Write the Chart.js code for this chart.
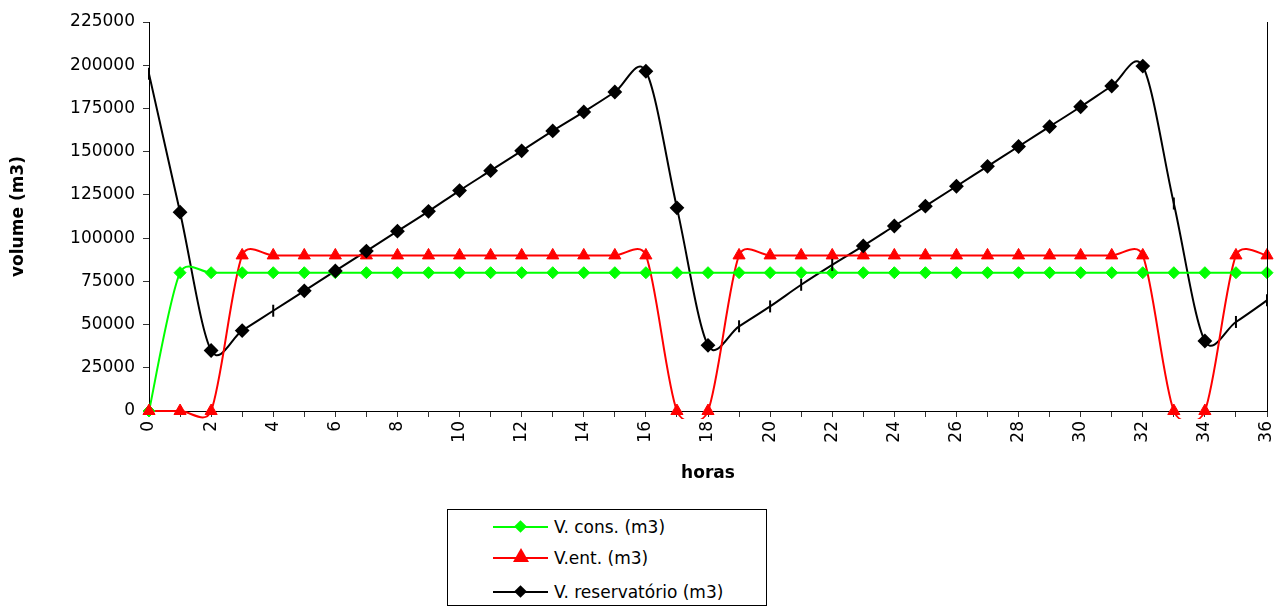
<!doctype html>
<html>
  <head>
    <title>Volumes</title>
    <script src="https://cdn.jsdelivr.net/npm/chart.js"></script>
    <style>
      body {
        margin: 0;
        background: #fff;
        font-family: 'DejaVu Sans', sans-serif;
      }
      .wrap {
        position: relative;
        width: 1275px;
        height: 612px;
      }
      #chart {
        position: absolute;
        left: 0;
        top: 0;
      }
      .legend {
        position: absolute;
        left: 447px;
        top: 509px;
        width: 320px;
        height: 97px;
        border: 1px solid #000;
        box-sizing: border-box;
        font-size: 17px;
      }
      .row {
        position: absolute;
        left: 45px;
        height: 20px;
        display: flex;
        align-items: center;
      }
      .line {
        position: relative;
        width: 55px;
        height: 2px;
        margin-right: 6px;
      }
      .diamond {
        position: absolute;
        left: 23px;
        top: -4px;
        width: 9px;
        height: 9px;
        transform: rotate(45deg);
      }
      .tri {
        position: absolute;
        left: 20px;
        top: -9px;
        width: 0;
        height: 0;
        border-left: 8px solid transparent;
        border-right: 8px solid transparent;
        border-bottom: 14px solid #ff0000;
      }
    </style>
  </head>
  <body>
    <div class="wrap">
      <canvas id="chart" width="1275" height="500"></canvas>
      <div class="legend">
        <div class="row" style="top: 7px">
          <div class="line" style="background: #00ff00"><div class="diamond" style="background: #00ff00"></div></div>
          <span>V. cons. (m3)</span>
        </div>
        <div class="row" style="top: 38px">
          <div class="line" style="background: #ff0000"><div class="tri"></div></div>
          <span>V.ent. (m3)</span>
        </div>
        <div class="row" style="top: 72px">
          <div class="line" style="background: #000"><div class="diamond" style="background: #000"></div></div>
          <span>V. reservatório (m3)</span>
        </div>
      </div>
    </div>

    <script>
      const hours = [0, 1, 2, 3, 4, 5, 6, 7, 8, 9, 10, 11, 12, 13, 14, 15, 16, 17, 18,
        19, 20, 21, 22, 23, 24, 25, 26, 27, 28, 29, 30, 31, 32, 33, 34, 35, 36];

      const vCons = [0, 80000, 80000, 80000, 80000, 80000, 80000, 80000, 80000, 80000,
        80000, 80000, 80000, 80000, 80000, 80000, 80000, 80000, 80000, 80000, 80000,
        80000, 80000, 80000, 80000, 80000, 80000, 80000, 80000, 80000, 80000, 80000,
        80000, 80000, 80000, 80000, 80000];

      const vEnt = [0, 0, 0, 90000, 90000, 90000, 90000, 90000, 90000, 90000, 90000,
        90000, 90000, 90000, 90000, 90000, 90000, 0, 0, 90000, 90000, 90000, 90000,
        90000, 90000, 90000, 90000, 90000, 90000, 90000, 90000, 90000, 90000, 0, 0,
        90000, 90000];

      const vRes = [195000, 115000, 35000, 46500, 58000, 69500, 81000, 92500, 104000,
        115500, 127500, 139000, 150500, 162000, 173000, 184500, 196500, 117500, 38000,
        49000, 60500, 73000, 84500, 95500, 107000, 118500, 130000, 141500, 153000,
        164500, 176000, 188000, 199500, 120000, 40500, 51500, 64000];

      // hours where the reservoir marker shows as a short vertical dash
      const dashHours = [0, 4, 19, 20, 21, 22, 33, 35, 36];

      const yTicks = [0, 25000, 50000, 75000, 100000, 125000, 150000, 175000, 200000, 225000];

      const toXY = (vals) => hours.map((h, i) => ({ x: h, y: vals[i] }));
      const resStyle = hours.map((h) => (dashHours.includes(h) ? 'line' : 'rectRot'));
      const resRot = hours.map((h) => (dashHours.includes(h) ? 90 : 0));

      const dist = (a, b) => Math.hypot(b.x - a.x, b.y - a.y);

      // control handle at point i, limited so it never exceeds half the adjacent segment
      function handle(p, i, side) {
        const prev = p[Math.max(i - 1, 0)];
        const next = p[Math.min(i + 1, p.length - 1)];
        const tx = next.x - prev.x;
        const ty = next.y - prev.y;
        const len = Math.hypot(tx, ty);
        if (len === 0) return { x: p[i].x, y: p[i].y };
        let f = 1 / 6;
        const seg = side > 0 ? dist(p[i], next) : dist(prev, p[i]);
        if (len * f > seg * 0.5) f = (seg * 0.5) / len;
        return { x: p[i].x + side * tx * f, y: p[i].y + side * ty * f };
      }

      // Excel-style smoothed lines through the points placed by the scales
      const smoothLines = {
        id: 'smoothLines',
        beforeDatasetsDraw(chart) {
          const { ctx, chartArea } = chart;
          const metas = chart.getSortedVisibleDatasetMetas();
          ctx.save();
          ctx.beginPath();
          ctx.rect(chartArea.left - 2, chartArea.top - 10, chartArea.width + 12, chartArea.height + 18);
          ctx.clip();
          for (const meta of metas) {
            const ds = chart.data.datasets[meta.index];
            const p = meta.data.map((el) => ({ x: el.x, y: el.y }));
            ctx.strokeStyle = ds.borderColor;
            ctx.lineWidth = 2;
            ctx.lineJoin = 'round';
            ctx.beginPath();
            ctx.moveTo(p[0].x, p[0].y);
            for (let i = 0; i < p.length - 1; i++) {
              const c1 = handle(p, i, 1);
              const c2 = handle(p, i + 1, -1);
              ctx.bezierCurveTo(c1.x, c1.y, c2.x, c2.y, p[i + 1].x, p[i + 1].y);
            }
            ctx.stroke();
          }
          ctx.restore();
        },
        afterDraw(chart) {
          const { ctx, chartArea } = chart;
          ctx.save();
          ctx.strokeStyle = '#000';
          ctx.lineWidth = 1;
          ctx.beginPath();
          ctx.moveTo(Math.round(chartArea.right) + 0.5, chartArea.top);
          ctx.lineTo(Math.round(chartArea.right) + 0.5, chartArea.bottom);
          ctx.stroke();
          ctx.restore();
        },
      };

      Chart.defaults.font.family = "'DejaVu Sans', sans-serif";
      Chart.defaults.font.size = 17;
      Chart.defaults.color = '#000';

      new Chart(document.getElementById('chart').getContext('2d'), {
        type: 'line',
        data: {
          datasets: [
            {
              label: 'V. reservatório (m3)',
              data: toXY(vRes),
              borderColor: '#000',
              backgroundColor: '#000',
              showLine: false,
              pointStyle: resStyle,
              rotation: resRot,
              pointRadius: 6,
              pointBorderWidth: 2,
              clip: 10,
              order: 0,
            },
            {
              label: 'V.ent. (m3)',
              data: toXY(vEnt),
              borderColor: '#ff0000',
              backgroundColor: '#ff0000',
              showLine: false,
              pointStyle: 'triangle',
              pointRadius: 7,
              clip: 10,
              order: 1,
            },
            {
              label: 'V. cons. (m3)',
              data: toXY(vCons),
              borderColor: '#00ff00',
              backgroundColor: '#00ff00',
              showLine: false,
              pointStyle: 'rectRot',
              pointRadius: 6,
              clip: 10,
              order: 2,
            },
          ],
        },
        options: {
          responsive: false,
          animation: false,
          layout: { padding: { top: 22, right: 2, left: 0, bottom: 0 } },
          plugins: { legend: { display: false }, tooltip: { enabled: false } },
          scales: {
            x: {
              type: 'linear',
              min: 0,
              max: 36,
              afterFit: (s) => {
                s.height = 89;
                s.paddingLeft = 0;
                s.paddingRight = 0;
              },
              ticks: {
                stepSize: 1,
                minRotation: 90,
                maxRotation: 90,
                autoSkip: false,
                padding: 4,
                callback: (v) => (v % 2 === 0 ? String(v) : ''),
              },
              grid: { drawOnChartArea: false, tickLength: 6, color: '#333' },
              border: { color: '#000', width: 1 },
              title: {
                display: true,
                text: 'horas',
                font: { weight: 'bold', size: 17 },
                padding: { top: 0, bottom: 16 },
              },
            },
            y: {
              min: 0,
              max: 225000,
              afterFit: (s) => {
                s.width = 149;
                s.paddingTop = 0;
                s.paddingBottom = 0;
              },
              afterBuildTicks: (s) => { s.ticks = yTicks.map((v) => ({ value: v })); },
              ticks: { padding: 8, callback: (v) => String(v) },
              grid: { drawOnChartArea: false, tickLength: 6, color: '#333' },
              border: { color: '#000', width: 1 },
              title: {
                display: true,
                text: 'volume (m3)',
                font: { weight: 'bold', size: 17 },
                padding: { top: 8, bottom: 0 },
              },
            },
          },
        },
        plugins: [smoothLines],
      });
    </script>
  </body>
</html>
